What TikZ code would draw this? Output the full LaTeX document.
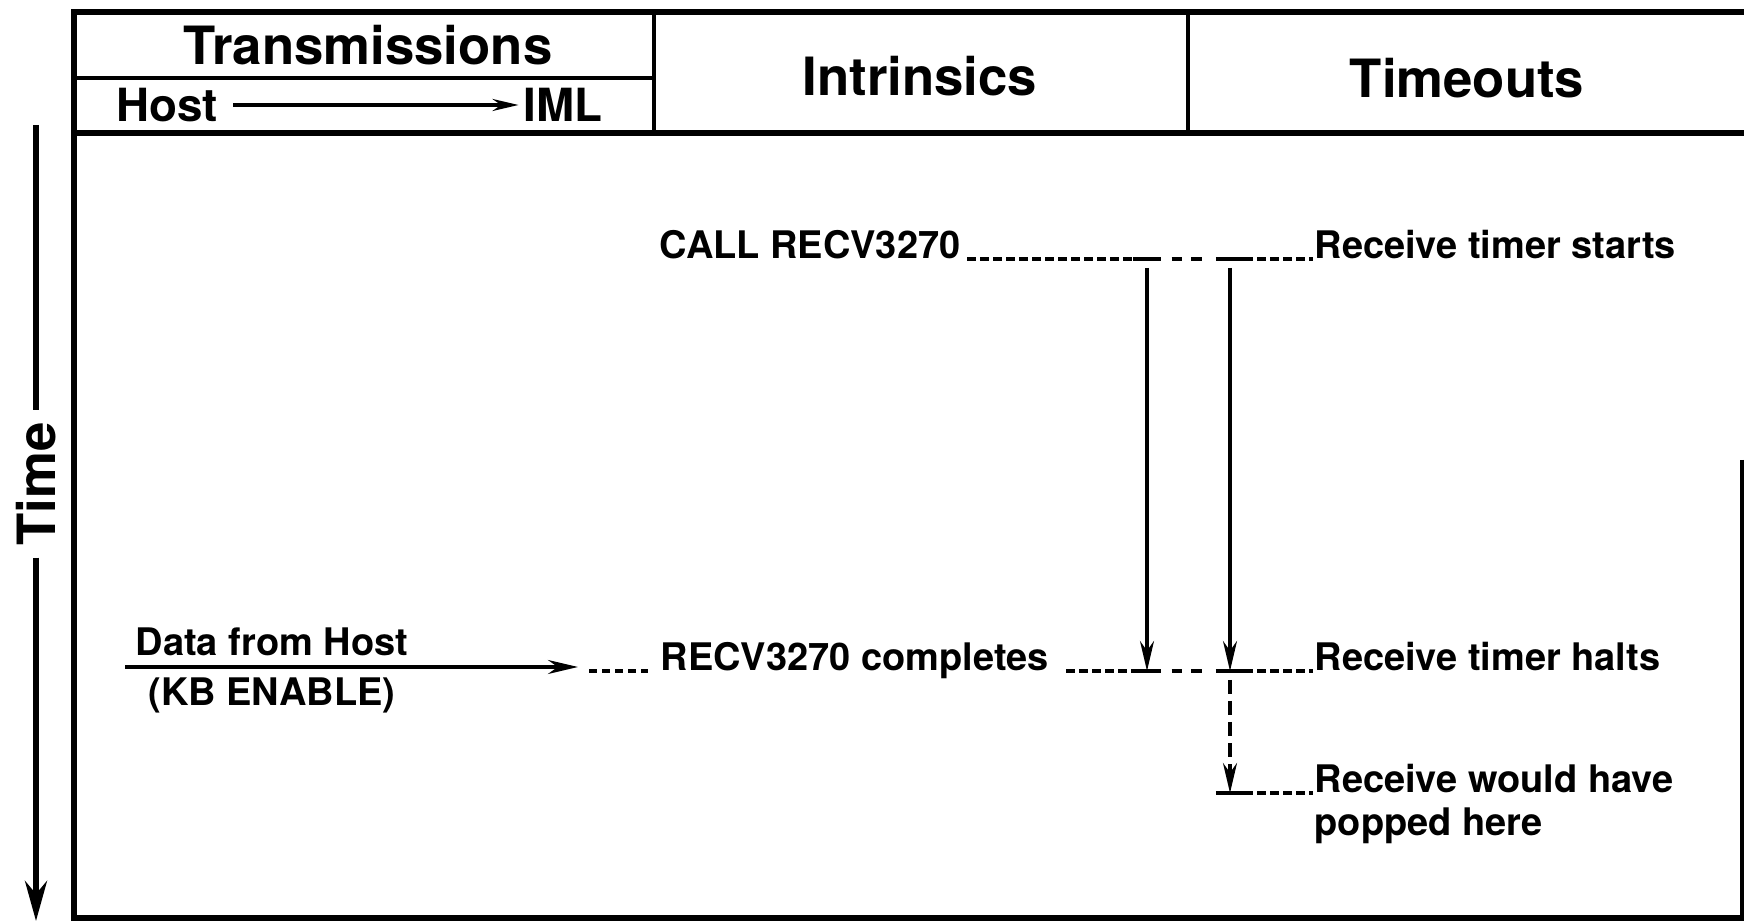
\documentclass[tikz,border=0pt]{standalone}
\usepackage{fontspec}
\setmainfont{TeX Gyre Heros}
\usetikzlibrary{arrows.meta}

\begin{document}
\begin{tikzpicture}[x=0.01cm,y=-0.01cm,line width=0.9pt,
  >={Stealth[length=3mm,width=1.4mm]},
  lbl/.style={font=\bfseries\fontsize{10.8}{13}\selectfont,inner sep=0pt},
  head/.style={font=\bfseries\fontsize{15}{18}\selectfont,inner sep=0pt},
  sub/.style={font=\bfseries\fontsize{13}{15}\selectfont,inner sep=0pt},
  dashln/.style={dash pattern=on 2.4pt off 1.3pt},
  gapln/.style={dash pattern=on 3pt off 2.6pt},
  tmark/.style={line width=1.3pt}]
  \useasboundingbox (0,0) rectangle (1744,922);
  % rahmen
  \draw[line width=1.9pt] (1746,12) -- (74,12) -- (74,918) -- (1746,918);
  \draw[line width=1pt] (1742,460) -- (1742,918);
  \draw[line width=1.9pt] (74,133) -- (1746,133);
  \draw[line width=1.1pt] (654,12) -- (654,133);
  \draw[line width=1.1pt] (1188,12) -- (1188,133);
  \draw[line width=0.9pt] (74,78) -- (654,78);
  % spaltenkoepfe
  \node[head] (trans) at (368,45) {Transmissions};
  \node[head] (intr) at (920,76) {Intrinsics};
  \node[head] (tout) at (1467,78) {Timeouts};
  \node[sub] (host) at (167,105) {Host};
  \node[sub] (iml) at (563,105) {IML};
  \draw[-{Stealth[length=2.6mm,width=1.2mm]}] ([xshift=4pt]host.east) -- ([xshift=-1pt]iml.west);
  % zeitachse
  \node[head,rotate=90,inner sep=3pt] (time) at (36,484) {Time};
  \coordinate (ttop) at (36,125);
  \coordinate (tbot) at (36,921);
  \draw[line width=1.6pt] (ttop) -- (time.east);
  \draw[line width=1.6pt,-{Stealth[length=4mm,width=2.2mm]}] (time.west) -- (tbot);
  % aufruf
  \node[lbl,anchor=base east] (call) at (962,259) {CALL RECV3270};
  \node[lbl,anchor=base west] (rstart) at (1313,259) {Receive timer starts};
  \coordinate (a1) at (1147,259);
  \coordinate (b1) at (1230,259);
  % ende
  \node[lbl,anchor=base west] (done) at (659,671) {RECV3270 completes};
  \node[lbl,anchor=base west] (rhalt) at (1313,671) {Receive timer halts};
  \coordinate (a2) at (1147,671);
  \coordinate (b2) at (1230,671);
  % daten vom host
  \node[lbl,anchor=base west] (data) at (134,656) {Data from Host};
  \node[lbl,anchor=north west] (kb) at (147,676) {(KB ENABLE)};
  \coordinate (hsrc) at (125,667);
  \coordinate (hdst) at (578,667);
  \coordinate (c0) at (589,671);
  \draw[->] (hsrc) -- (hdst);
  % haette gepoppt
  \coordinate (c3) at (1230,793);
  \node[lbl,anchor=base west] (would) at (1313,793) {Receive would have};
  \node[lbl,anchor=base west] (pop) at ([yshift=-12.2pt]would.base west) {popped here};
  % markierungen
  \foreach \m in {a1,b1,a2,b2,c3}
    \draw[tmark] ([xshift=-4pt]\m) -- ([xshift=4pt]\m);
  % gestrichelte verbindungen
  \draw[dashln] ([xshift=1.5pt]call.base east) -- ([xshift=-4pt]a1);
  \draw[gapln] ([xshift=7pt]a1) -- ([xshift=-5.5pt]b1);
  \draw[dashln] ([xshift=4pt]b1) -- (rstart.base west);
  \draw[dashln] (c0) -- ([xshift=-3pt]done.base west);
  \draw[dashln] ([xshift=4.5pt]done.base east) -- ([xshift=-4pt]a2);
  \draw[gapln] ([xshift=7pt]a2) -- ([xshift=-5.5pt]b2);
  \draw[dashln] ([xshift=4pt]b2) -- (rhalt.base west);
  \draw[dashln] ([xshift=4pt]c3) -- (would.base west);
  % timer
  \draw[->] ([yshift=-2.5pt]a1) -- (a2);
  \draw[->] ([yshift=-2.5pt]b1) -- (b2);
  \draw[->,dash pattern=on 4pt off 2pt] ([yshift=-2.5pt]b2) -- (c3);
\end{tikzpicture}
\end{document}
